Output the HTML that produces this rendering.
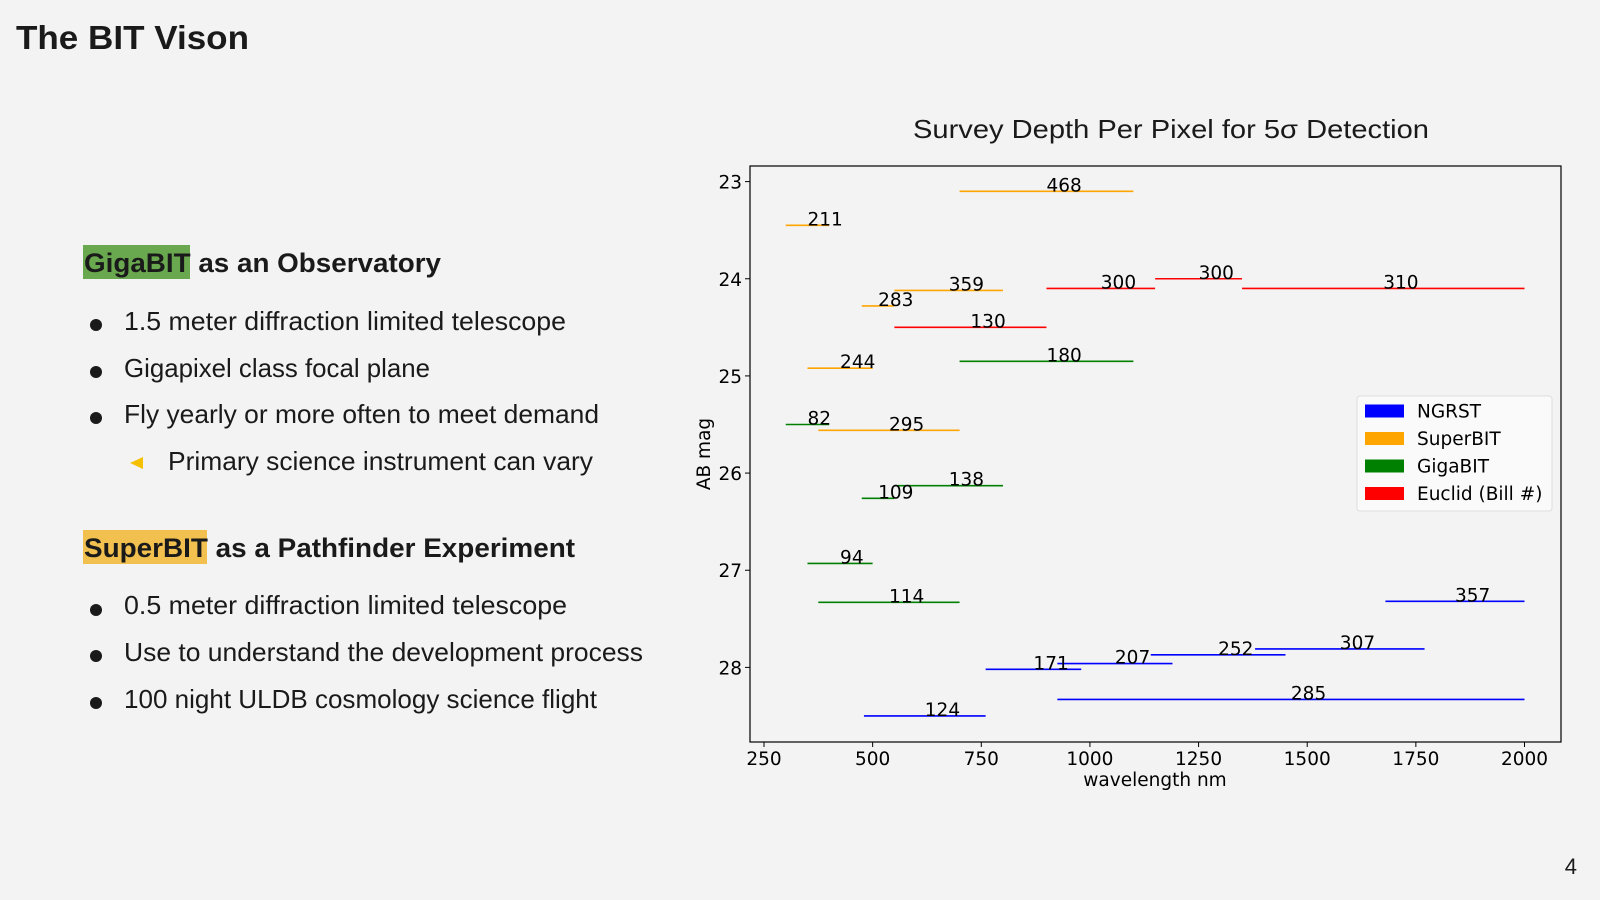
<!DOCTYPE html>
<html><head><meta charset="utf-8"><style>
html,body{margin:0;padding:0;background:#f3f3f3;}
svg{display:block;}
.sl{font-family:"Liberation Sans",sans-serif;fill:#1a1a1a;}
.dj{font-family:"DejaVu Sans","Liberation Sans",sans-serif;fill:#000;}
</style></head><body>
<svg id="page" width="1600" height="900" viewBox="0 0 1600 900">
<rect x="0" y="0" width="1600" height="900" fill="#f3f3f3"/>
<text class="sl" x="16" y="49" font-size="33" font-weight="bold" textLength="233" lengthAdjust="spacingAndGlyphs">The BIT Vison</text>

<rect x="83" y="245" width="107" height="34" fill="#6aa84f"/>
<text class="sl" x="84" y="272" font-size="27" font-weight="bold" textLength="357" lengthAdjust="spacingAndGlyphs">GigaBIT as an Observatory</text>
<g>
<circle cx="96" cy="325" r="6" fill="#1a1a1a"/><text class="sl" x="124" y="330" font-size="26" textLength="442" lengthAdjust="spacingAndGlyphs">1.5 meter diffraction limited telescope</text>
<circle cx="96" cy="372" r="6" fill="#1a1a1a"/><text class="sl" x="124" y="377" font-size="26" textLength="306" lengthAdjust="spacingAndGlyphs">Gigapixel class focal plane</text>
<circle cx="96" cy="418" r="6" fill="#1a1a1a"/><text class="sl" x="124" y="423" font-size="26" textLength="475" lengthAdjust="spacingAndGlyphs">Fly yearly or more often to meet demand</text>
<polygon points="130,463 143,457 143,469" fill="#f5c000"/><text class="sl" x="168" y="470" font-size="26" textLength="425" lengthAdjust="spacingAndGlyphs">Primary science instrument can vary</text>
</g>

<rect x="83" y="530" width="124" height="34" fill="#f1c04f"/>
<text class="sl" x="84" y="557" font-size="27" font-weight="bold" textLength="491" lengthAdjust="spacingAndGlyphs">SuperBIT as a Pathfinder Experiment</text>
<g>
<circle cx="96" cy="610" r="6" fill="#1a1a1a"/><text class="sl" x="124" y="614" font-size="26" textLength="443" lengthAdjust="spacingAndGlyphs">0.5 meter diffraction limited telescope</text>
<circle cx="96" cy="656" r="6" fill="#1a1a1a"/><text class="sl" x="124" y="661" font-size="26" textLength="519" lengthAdjust="spacingAndGlyphs">Use to understand the development process</text>
<circle cx="96" cy="703" r="6" fill="#1a1a1a"/><text class="sl" x="124" y="708" font-size="26" textLength="473" lengthAdjust="spacingAndGlyphs">100 night ULDB cosmology science flight</text>
</g>
<text class="sl" x="1577" y="874" font-size="22" text-anchor="end" fill="#444">4</text>

<text class="sl" x="1171" y="138" font-size="26" text-anchor="middle" textLength="516" lengthAdjust="spacingAndGlyphs">Survey Depth Per Pixel for 5σ Detection</text>
<g id="chart"></g>
</svg>
<script>
const seriesNames = ["NGRST", "SuperBIT", "GigaBIT", "Euclid (Bill #)"];
const seriesColors = ["#0000ff", "#ffa500", "#008000", "#ff0000"];
const superbitStart = [700, 300, 550, 475, 350, 375];
const superbitEnd = [1100, 400, 800, 550, 500, 700];
const superbitMag = [23.1, 23.45, 24.12, 24.28, 24.92, 25.56];
const superbitLabel = ["468", "211", "359", "283", "244", "295"];
const euclidStart = [900, 1150, 1350, 550];
const euclidEnd = [1150, 1350, 2000, 900];
const euclidMag = [24.1, 24.0, 24.1, 24.5];
const euclidLabel = ["300", "300", "310", "130"];
const gigabitStart = [700, 300, 550, 475, 350, 375];
const gigabitEnd = [1100, 400, 800, 550, 500, 700];
const gigabitMag = [24.85, 25.5, 26.13, 26.26, 26.93, 27.33];
const gigabitLabel = ["180", "82", "138", "109", "94", "114"];
const ngrstStart = [1680, 1380, 1140, 925, 760, 925, 480];
const ngrstEnd = [2000, 1770, 1450, 1190, 980, 2000, 760];
const ngrstMag = [27.32, 27.81, 27.87, 27.96, 28.02, 28.33, 28.5];
const ngrstLabel = ["357", "307", "252", "207", "171", "285", "124"];
const xTicks = [250, 500, 750, 1000, 1250, 1500, 1750, 2000];
const yTicks = [23, 24, 25, 26, 27, 28];

const NS = "http://www.w3.org/2000/svg";
const L = 750, R = 1561, T = 166, B = 742;
const xs = v => 764 + (v - 250) * (1524.5 - 764) / 1750;
const ys = v => 181.6 + (v - 23) * 97.16;
const g = document.getElementById("chart");
function mk(tag, attrs, parent) {
  const e = document.createElementNS(NS, tag);
  for (const k in attrs) e.setAttribute(k, attrs[k]);
  (parent || g).appendChild(e);
  return e;
}
const frame = mk("rect", {x: L, y: T, width: R - L, height: B - T, fill: "none", stroke: "#000", "stroke-width": 1.2});



xTicks.forEach(t => {
  const tk = mk("line", {x1: xs(t), x2: xs(t), y1: B, y2: B + 5, stroke: "#000"});
  
  
  const tl = mk("text", {x: xs(t), y: B + 23, "font-size": 18.5, "text-anchor": "middle", class: "dj"});
  tl.textContent = t;
  
  
});
yTicks.forEach(t => {
  const tk = mk("line", {x1: L - 5, x2: L, y1: ys(t), y2: ys(t), stroke: "#000"});
  
  
  const tl = mk("text", {x: L - 8, y: ys(t) + 7, "font-size": 18.5, "text-anchor": "end", class: "dj"});
  tl.textContent = t;
  
  
});
const xl = mk("text", {x: 1155, y: 786, "font-size": 18.5, "text-anchor": "middle", class: "dj"});
xl.textContent = "wavelength nm";


const yl = mk("text", {x: 0, y: 0, "font-size": 18.5, "text-anchor": "middle", class: "dj", transform: "translate(710,454) rotate(-90)"});
yl.textContent = "AB mag";



function drawSeries(starts, ends, mags, labels, color, name) {
  starts.forEach((s, i) => {
    const ln = mk("line", {x1: xs(s), x2: xs(ends[i]), y1: ys(mags[i]), y2: ys(mags[i]), stroke: color, "stroke-width": 1.6});
    
    
    const tx = mk("text", {x: (xs(s) + xs(ends[i])) / 2, y: ys(mags[i]), "font-size": 18.5, "text-anchor": "start", class: "dj"});
    tx.textContent = labels[i];
    
    
  });
}
drawSeries(superbitStart, superbitEnd, superbitMag, superbitLabel, seriesColors[1], "superbit");
drawSeries(euclidStart, euclidEnd, euclidMag, euclidLabel, seriesColors[3], "euclid");
drawSeries(gigabitStart, gigabitEnd, gigabitMag, gigabitLabel, seriesColors[2], "gigabit");
drawSeries(ngrstStart, ngrstEnd, ngrstMag, ngrstLabel, seriesColors[0], "ngrst");

const lg = mk("g", {});


mk("rect", {x: 1357, y: 396, width: 195, height: 115, rx: 3, fill: "#fafafa", stroke: "#ddd"}, lg);
seriesNames.forEach((n, i) => {
  const y = 411 + i * 27.5;
  const p = mk("rect", {x: 1365, y: y - 6.5, width: 39, height: 13, fill: seriesColors[i]}, lg);
  
  
  const t = mk("text", {x: 1417, y: y + 6.5, "font-size": 18.5, class: "dj"}, lg);
  t.textContent = n;
  
  
});
</script>
</body></html>
